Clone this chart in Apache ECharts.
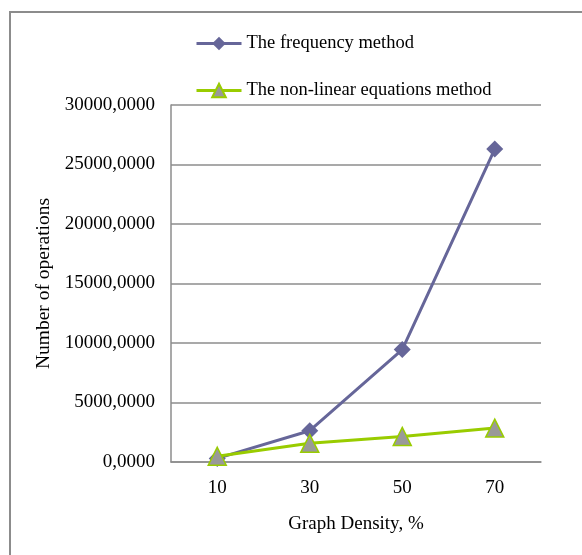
<!DOCTYPE html>
<html>
<head>
<meta charset="utf-8">
<script src="https://cdn.jsdelivr.net/npm/echarts@6/dist/echarts.min.js"></script>
<style>
  html, body { margin: 0; padding: 0; background: #fff; }
  #chart { width: 582px; height: 555px; }
</style>
</head>
<body>
<div id="chart"></div>
<script>
// Graph density categories (%)
const densities = ['10', '30', '50', '70'];
// Number of operations per method
const frequencyOps = [300, 2630, 9450, 26300];
const nonLinearOps = [480, 1570, 2150, 2850];

const serif = '"Liberation Serif", "DejaVu Serif", serif';
const chart = echarts.init(document.getElementById('chart'));

chart.setOption({
  animation: false,
  backgroundColor: '#ffffff',
  graphic: [{
    type: 'rect',
    x: 0, y: 0,
    shape: { x: 10, y: 12, width: 640, height: 640 },
    style: { fill: 'none', stroke: '#8c8c8c', lineWidth: 2 },
    silent: true
  }],
  legend: {
    orient: 'vertical',
    left: 195,
    top: 34,
    padding: 0,
    itemWidth: 45,
    itemHeight: 17,
    itemGap: 28,
    lineStyle: { width: 3 },
    textStyle: { fontFamily: serif, fontSize: 18.5, color: '#000' },
    data: ['The frequency method', 'The non-linear equations method']
  },
  grid: { left: 171, right: 41, top: 105, bottom: 93, containLabel: false },
  xAxis: {
    type: 'category',
    data: densities,
    boundaryGap: true,
    name: 'Graph Density, %',
    nameLocation: 'middle',
    nameGap: 53,
    nameTextStyle: { fontFamily: serif, fontSize: 19, color: '#000' },
    axisLine: { lineStyle: { color: '#8c8c8c', width: 1.5 } },
    axisTick: { show: false },
    axisLabel: { fontFamily: serif, fontSize: 19, color: '#000', margin: 17 }
  },
  yAxis: {
    type: 'value',
    min: 0, max: 30000, interval: 5000,
    name: 'Number of operations',
    nameLocation: 'middle',
    nameGap: 117,
    nameRotate: 90,
    nameTextStyle: { fontFamily: serif, fontSize: 19.5, color: '#000' },
    axisLine: { show: true, lineStyle: { color: '#8c8c8c', width: 1.5 } },
    axisTick: { show: false },
    splitLine: { lineStyle: { color: '#8c8c8c', width: 1.5 } },
    axisLabel: {
      fontFamily: serif, fontSize: 19, color: '#000', margin: 16,
      formatter: v => v + ',0000'
    }
  },
  series: [
    {
      name: 'The frequency method',
      type: 'line',
      data: frequencyOps,
      symbol: 'diamond',
      symbolSize: 17,
      lineStyle: { color: '#666699', width: 3 },
      itemStyle: { color: '#666699' },
      z: 2
    },
    {
      name: 'The non-linear equations method',
      type: 'line',
      data: nonLinearOps,
      symbol: 'triangle',
      symbolSize: 18,
      lineStyle: { color: '#99cc00', width: 3 },
      itemStyle: { color: '#999999', borderColor: '#99cc00', borderWidth: 1.5 },
      z: 3
    }
  ]
});
</script>
</body>
</html>
